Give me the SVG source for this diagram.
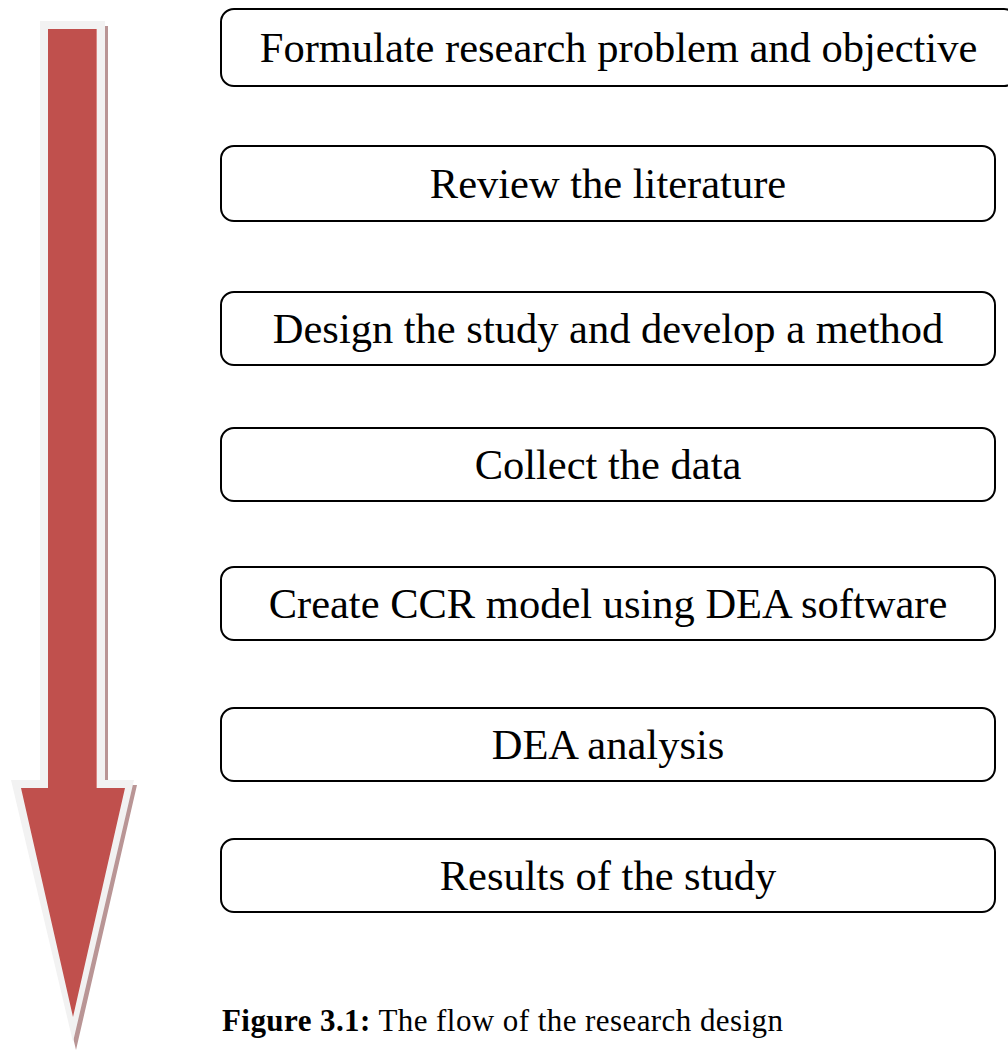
<svg xmlns="http://www.w3.org/2000/svg" width="1008" height="1054" viewBox="0 0 1008 1054">
<style>
.box{fill:#fff;stroke:#000;stroke-width:2}
.t{font-family:"Liberation Serif","Times New Roman",serif;font-size:42.5px;fill:#000;text-anchor:middle}
.cap{font-family:"Liberation Serif","Times New Roman",serif;font-size:31px;fill:#000}
</style>
<rect width="1008" height="1054" fill="#fff"/>
<g id="arrow">
<polygon points="43,26 108,26 108,785 137,785 76,1050 14,785 43,785" fill="#b99595"/>
<polygon points="40,21 105,21 105,780 134,780 73,1042 11,780 40,780" fill="#f2f2f2"/>
<polygon points="48,29 97,29 97,788 125,788 73,1017 21,788 48,788" fill="#c0504d"/>
<line x1="96.5" y1="29" x2="96.5" y2="788" stroke="#d98683" stroke-width="1"/>
</g>
<g id="connectors"></g>
<g id="n1"><rect class="box" x="221" y="9" width="796" height="77" rx="13"/><text class="t" x="618.5" y="62">Formulate research problem and objective</text></g>
<g id="n2"><rect class="box" x="221" y="146" width="774" height="75" rx="13"/><text class="t" x="608" y="198">Review the literature</text></g>
<g id="n3"><rect class="box" x="221" y="292" width="774" height="73" rx="13"/><text class="t" x="608" y="343">Design the study and develop a method</text></g>
<g id="n4"><rect class="box" x="221" y="428" width="774" height="73" rx="13"/><text class="t" x="608" y="479">Collect the data</text></g>
<g id="n5"><rect class="box" x="221" y="567" width="774" height="73" rx="13"/><text class="t" x="608" y="618">Create CCR model using DEA software</text></g>
<g id="n6"><rect class="box" x="221" y="708" width="774" height="73" rx="13"/><text class="t" x="608" y="759">DEA analysis</text></g>
<g id="n7"><rect class="box" x="221" y="839" width="774" height="73" rx="13"/><text class="t" x="608" y="890">Results of the study</text></g>
<g id="caption"><text class="cap" x="222" y="1031" textLength="561" lengthAdjust="spacing"><tspan font-weight="bold">Figure 3.1:</tspan> The flow of the research design</text></g>
</svg>
